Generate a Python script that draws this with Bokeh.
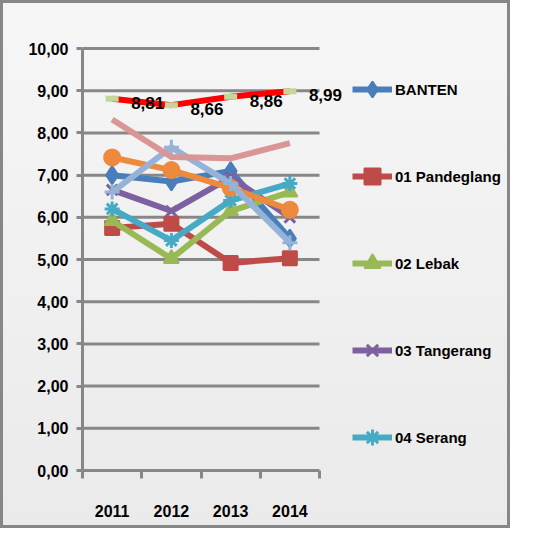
from bokeh.plotting import figure
from bokeh.models import (Range1d, FixedTicker, CustomJSTickFormatter, Legend, LegendItem,
                          ColumnDataSource, LabelSet)
from bokeh.core.properties import value
from bokeh.embed import file_html
from bokeh.resources import INLINE

# ---- data ----
years = [2011, 2012, 2013, 2014]
banten = [7.00, 6.85, 7.10, 5.50]
pandeglang = [5.75, 5.85, 4.92, 5.03]
lebak = [5.92, 5.02, 6.15, 6.60]
tangerang = [6.65, 6.15, 6.95, 6.00]
serang = [6.20, 5.45, 6.40, 6.80]
series6 = [7.42, 7.12, 6.70, 6.18]
series7 = [6.60, 7.66, 6.80, 5.40]
series8 = [8.32, 7.43, 7.40, 7.76]
series9 = [8.81, 8.66, 8.86, 8.99]
y_ticks = [0, 1, 2, 3, 4, 5, 6, 7, 8, 9, 10]

FONT = "Liberation Sans"
GREY = "#878787"

# ---- layout (pixels) ----
W, H = 510, 528
FL, FR_DATA, FR = 79, 316, 503          # frame left, end of category area, frame right
FB = 467                                # frame bottom
PX_PER_UNIT_X = (FR_DATA - FL) / len(years)
PX_PER_UNIT_Y = 42.2
Y_TOP = 10.05

x_start = years[0] - 0.5
x_end = years[-1] + 0.5
x_range = Range1d(x_start, x_end + (FR - FR_DATA) / PX_PER_UNIT_X)
y_range = Range1d(0, Y_TOP)
frame_h = round(Y_TOP * PX_PER_UNIT_Y)

p = figure(width=W, height=H, output_backend="svg", toolbar_location=None,
           x_range=x_range, y_range=y_range,
           min_border_left=FL, min_border_right=W - FR,
           min_border_top=FB - frame_h, min_border_bottom=H - FB)
p.styles = {"border": f"3px solid {GREY}",
            "background": "linear-gradient(#F6F6F6, #EAEAEA)"}
p.background_fill_alpha = 0
p.border_fill_alpha = 0
p.outline_line_color = None

# axes
p.yaxis.ticker = FixedTicker(ticks=y_ticks)
p.yaxis.bounds = (y_ticks[0], y_ticks[-1])
p.yaxis.formatter = CustomJSTickFormatter(code="return tick.toFixed(2).replace('.', ',');")
p.yaxis.axis_line_color = GREY
p.yaxis.axis_line_width = 3
p.yaxis.major_tick_line_color = GREY
p.yaxis.major_tick_line_width = 3
p.yaxis.major_tick_out = 6
p.yaxis.major_tick_in = 0
p.yaxis.minor_tick_line_color = None
p.yaxis.major_label_standoff = 8
p.yaxis.major_label_text_font = FONT
p.yaxis.major_label_text_font_style = "bold"
p.yaxis.major_label_text_font_size = "16px"
p.yaxis.major_label_text_color = "black"

p.xaxis.ticker = FixedTicker(ticks=years, minor_ticks=[y - 0.5 for y in years] + [x_end])
p.xaxis.bounds = (x_start, x_end)
p.xaxis.major_label_overrides = {y: str(y) for y in years}
p.xaxis.axis_line_color = GREY
p.xaxis.axis_line_width = 3
p.xaxis.major_tick_line_color = None
p.xaxis.major_tick_out = 0
p.xaxis.major_tick_in = 0
p.xaxis.minor_tick_line_color = GREY
p.xaxis.minor_tick_line_width = 3
p.xaxis.minor_tick_out = 8
p.xaxis.minor_tick_in = 0
p.xaxis.major_label_standoff = 26
p.xaxis.major_label_text_font = FONT
p.xaxis.major_label_text_font_style = "bold"
p.xaxis.major_label_text_font_size = "16px"
p.xaxis.major_label_text_color = "black"

p.xgrid.grid_line_color = None
p.ygrid.grid_line_color = None
# horizontal gridlines limited to the category area
p.segment(x0=[x_start] * (len(y_ticks) - 1), x1=[x_end] * (len(y_ticks) - 1),
          y0=y_ticks[1:], y1=y_ticks[1:], line_color=GREY, line_width=3)

LW = 6
MS = 15
items = []

def add(vals, color, marker, name=None, mcolor=None, msize=MS, mlw=2):
    r1 = p.line(years, vals, line_color=color, line_width=LW)
    rs = [r1]
    if marker:
        mc = mcolor or color
        r2 = p.scatter(years, vals, marker=marker, size=msize, fill_color=mc,
                       line_color=mc, line_width=mlw)
        rs.append(r2)
    if name:
        items.append(LegendItem(label=name, renderers=rs))

add(banten, "#4A7EBB", "diamond", "BANTEN", msize=18)
add(pandeglang, "#BE4B48", "square", "01 Pandeglang", msize=14)
add(lebak, "#98B954", "triangle", "02 Lebak", msize=15)
add(tangerang, "#7D60A0", "x", "03 Tangerang", msize=15, mlw=3)
add(serang, "#46AAC5", "asterisk", "04 Serang", msize=15, mlw=3)
add(series6, "#EE8A3D", "circle", msize=16)
add(series7, "#95B3D7", "cross", msize=15, mlw=3)
add(series8, "#D99694", None)
add(series9, "#FF0000", "dash", mcolor="#C3D69B", msize=13, mlw=6)

src = ColumnDataSource(dict(x=years, y=series9,
                            t=[f"{v:.2f}".replace(".", ",") for v in series9]))
p.add_layout(LabelSet(x="x", y="y", text="t", source=src, x_offset=19, y_offset=-4,
                      text_font=value(FONT), text_font_style="bold", text_font_size="17px",
                      text_color="black", text_baseline="middle", text_align="left"))

legend = Legend(items=items, location=(270, 11), orientation="vertical",
                glyph_width=40, glyph_height=44, label_height=44, spacing=43,
                label_standoff=3, padding=0, margin=0,
                border_line_alpha=0, background_fill_alpha=0,
                label_text_font=FONT, label_text_font_style="bold",
                label_text_font_size="15px", label_text_color="black")
p.add_layout(legend)

open("out.html", "w").write(file_html(p, INLINE))
